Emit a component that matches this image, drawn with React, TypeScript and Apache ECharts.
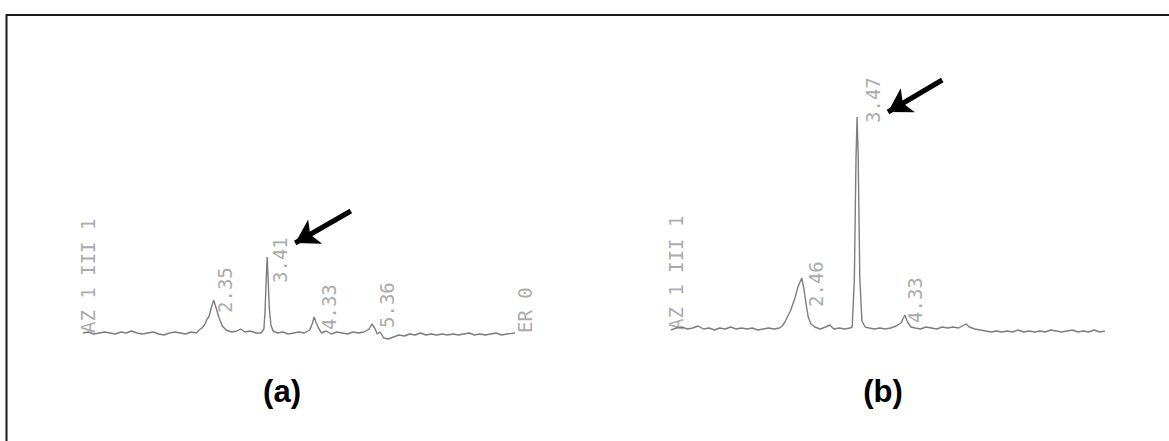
import React, { useEffect, useRef } from "react";
import * as echarts from "echarts";

// Chromatogram (a): [retention time (min), detector signal]
const traceA: [number, number][] = [
  [0.0, 10], [0.1, 11], [0.2, 9], [0.3, 10], [0.4, 11], [0.5, 10], [0.6, 9], [0.7, 11],
  [0.8, 10], [0.9, 12], [1.0, 10], [1.1, 9], [1.2, 10], [1.3, 11], [1.4, 9], [1.5, 8],
  [1.6, 10], [1.7, 11], [1.8, 10], [1.9, 9], [2.0, 11], [2.1, 10], [2.15, 13], [2.2, 15],
  [2.25, 18], [2.3, 24], [2.33, 26], [2.38, 36], [2.42, 43], [2.46, 36], [2.52, 25],
  [2.58, 17], [2.65, 13], [2.75, 11], [2.85, 12], [2.92, 14], [3.0, 11], [3.1, 12],
  [3.2, 10], [3.3, 10], [3.35, 14], [3.37, 30], [3.39, 60], [3.41, 86], [3.43, 62],
  [3.45, 35], [3.48, 18], [3.52, 12], [3.6, 10], [3.7, 11], [3.8, 9], [3.9, 10], [4.0, 11],
  [4.1, 10], [4.2, 13], [4.25, 20], [4.28, 26], [4.32, 20], [4.37, 14], [4.42, 10],
  [4.5, 12], [4.6, 9], [4.7, 11], [4.8, 10], [4.9, 9], [5.0, 11], [5.1, 10], [5.2, 11],
  [5.3, 14], [5.35, 19], [5.4, 15], [5.45, 9], [5.5, 11], [5.57, 5], [5.65, 4], [5.75, 6],
  [5.85, 8], [5.95, 7], [6.05, 9], [6.15, 8], [6.25, 10], [6.35, 8], [6.45, 9], [6.55, 8],
  [6.65, 9], [6.75, 8], [6.85, 9], [6.95, 8], [7.05, 9], [7.15, 10], [7.25, 8], [7.35, 9],
  [7.45, 8], [7.55, 9], [7.65, 10], [7.75, 8], [7.85, 9], [8.0, 10],
];

// Chromatogram (b)
const traceB: [number, number][] = [
  [0.0, 9], [0.1, 11], [0.2, 12], [0.3, 10], [0.4, 11], [0.5, 13], [0.6, 10], [0.7, 11],
  [0.8, 9], [0.9, 11], [1.0, 10], [1.1, 12], [1.2, 10], [1.3, 11], [1.4, 10], [1.5, 11],
  [1.6, 9], [1.7, 10], [1.8, 11], [1.9, 10], [2.0, 11], [2.05, 13], [2.1, 17], [2.2, 28],
  [2.28, 40], [2.34, 52], [2.41, 61], [2.45, 50], [2.49, 35], [2.53, 22], [2.58, 15],
  [2.65, 12], [2.75, 10], [2.85, 12], [2.93, 14], [3.0, 10], [3.1, 11], [3.2, 10],
  [3.3, 11], [3.34, 12], [3.38, 60], [3.41, 180], [3.43, 222], [3.45, 185], [3.48, 60],
  [3.52, 18], [3.58, 12], [3.65, 11], [3.75, 10], [3.85, 11], [3.95, 10], [4.05, 11],
  [4.15, 13], [4.24, 16], [4.31, 24], [4.36, 17], [4.42, 12], [4.5, 11], [4.6, 10],
  [4.7, 12], [4.8, 11], [4.9, 10], [5.0, 12], [5.1, 11], [5.2, 12], [5.3, 11], [5.44, 15],
  [5.5, 12], [5.6, 10], [5.7, 9], [5.8, 8], [5.9, 7], [6.0, 8], [6.1, 7], [6.2, 8], [6.3, 7],
  [6.4, 9], [6.5, 7], [6.6, 8], [6.7, 7], [6.8, 8], [6.9, 7], [7.0, 9], [7.1, 8], [7.2, 7],
  [7.3, 8], [7.4, 9], [7.5, 7], [7.6, 8], [7.7, 7], [7.8, 9], [7.9, 7], [8.0, 8],
];

// Printed annotations: [time, signal, text]
const labelsA: [number, number, string][] = [
  [0.09, 10, "AZ 1 III 1"],
  [2.63, 30, "2.35"],
  [3.65, 60, "3.41"],
  [4.56, 13, "4.33"],
  [5.63, 15, "5.36"],
  [8.19, 10, "ER 0"],
];
const labelsB: [number, number, string][] = [
  [0.09, 9, "AZ 1 III 1"],
  [2.67, 32, "2.46"],
  [3.72, 216, "3.47"],
  [4.5, 16, "4.33"],
];

// Arrows pointing at the target peak: [tail, tip]
const arrowA: [number, number][] = [[4.96, 132], [3.93, 100]];
const arrowB: [number, number][] = [[5.0, 259], [4.0, 227]];

const panelTitles = ["(a)", "(b)"];

const TRACE_COLOR = "#7d7d7d";
const TEXT_COLOR = "#949494";

function labelSeries(data: [number, number, string][], idx: number) {
  return {
    type: "scatter",
    xAxisIndex: idx,
    yAxisIndex: idx,
    data,
    symbolSize: 1,
    clip: false,
    silent: true,
    itemStyle: { color: "rgba(0,0,0,0)" },
    label: {
      show: true,
      position: "inside",
      rotate: 90,
      align: "left",
      verticalAlign: "middle",
      color: TEXT_COLOR,
      fontFamily: "DejaVu Sans Mono",
      fontSize: 19,
      formatter: (p: any) => p.data[2],
    },
  };
}

function traceSeries(data: [number, number][], idx: number, arrow: [number, number][]) {
  return {
    type: "line",
    xAxisIndex: idx,
    yAxisIndex: idx,
    data,
    showSymbol: false,
    symbol: "none",
    silent: true,
    lineStyle: { color: TRACE_COLOR, width: 1.4 },
    markLine: {
      silent: true,
      symbol: ["none", "arrow"],
      symbolSize: [21, 23],
      label: { show: false },
      lineStyle: { color: "#000", width: 5, type: "solid" },
      itemStyle: { color: "#000" },
      data: [[{ coord: arrow[0] }, { coord: arrow[1] }]],
    },
  };
}

export default function App() {
  const ref = useRef<HTMLDivElement>(null);
  useEffect(() => {
    if (!ref.current) return;
    const chart = echarts.init(ref.current, undefined, { renderer: "svg" });
    const axisX = (gi: number) => ({
      type: "value",
      gridIndex: gi,
      min: 0,
      max: 8,
      show: false,
    });
    const axisY = (gi: number) => ({
      type: "value",
      gridIndex: gi,
      min: 0,
      max: 270,
      show: false,
    });
    chart.setOption({
      animation: false,
      backgroundColor: "#fff",
      grid: [
        { left: 83, width: 432, top: 73, height: 270 },
        { left: 671, width: 434, top: 69, height: 270 },
      ],
      xAxis: [axisX(0), axisX(1)],
      yAxis: [axisY(0), axisY(1)],
      series: [
        traceSeries(traceA, 0, arrowA),
        traceSeries(traceB, 1, arrowB),
        labelSeries(labelsA, 0),
        labelSeries(labelsB, 1),
      ],
      graphic: [
        {
          type: "rect",
          shape: { x: 6.5, y: 15, width: 1200, height: 500 },
          style: { fill: "none", stroke: "#1a1a1a", lineWidth: 2 },
          silent: true,
        },
        {
          type: "text",
          x: 282,
          y: 391,
          style: {
            text: panelTitles[0],
            fontFamily: "Liberation Sans",
            fontWeight: "bold",
            fontSize: 31,
            fill: "#000",
            align: "center",
            verticalAlign: "middle",
          },
        },
        {
          type: "text",
          x: 883,
          y: 391,
          style: {
            text: panelTitles[1],
            fontFamily: "Liberation Sans",
            fontWeight: "bold",
            fontSize: 31,
            fill: "#000",
            align: "center",
            verticalAlign: "middle",
          },
        },
      ],
    });
    return () => chart.dispose();
  }, []);
  return (
    <div
      ref={ref}
      style={{ position: "fixed", left: 0, top: 0, width: 1169, height: 441 }}
    />
  );
}
